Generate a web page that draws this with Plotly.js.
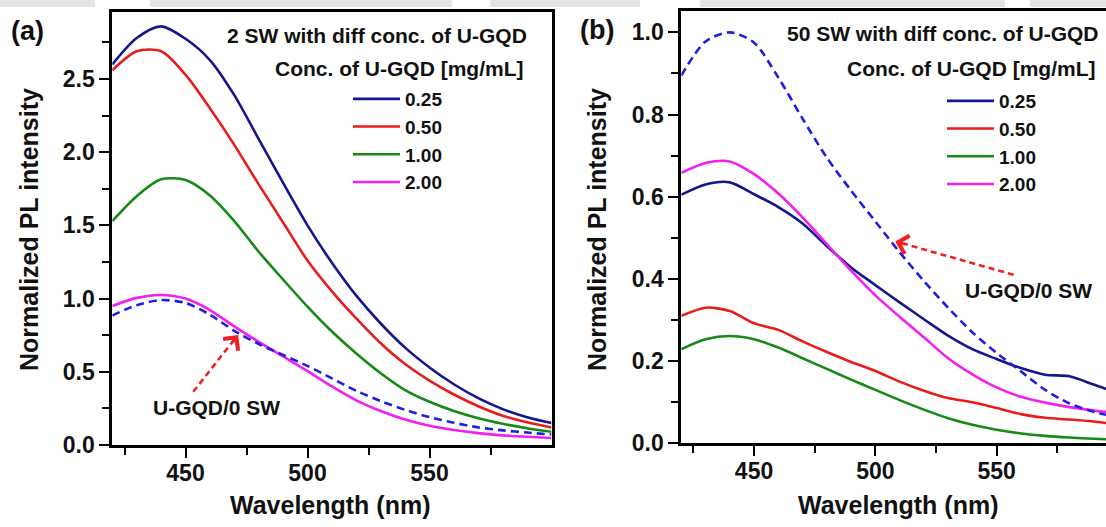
<!DOCTYPE html>
<html>
<head>
<meta charset="utf-8">
<script src="https://cdn.plot.ly/plotly-3.0.1.min.js"></script>
<style>html,body{margin:0;padding:0;background:#fff;}#chart{width:1106px;height:527px;}</style>
</head>
<body>
<div id="chart"></div>
<script>
// ---------- data: panel (a) 2 SW ----------
const wlA = [420,430,440,450,460,470,480,490,500,510,520,530,540,550,560,570,580,590,600];
const a025 = [2.60,2.78,2.86,2.775,2.63,2.39,2.09,1.79,1.50,1.245,1.02,0.83,0.665,0.53,0.415,0.32,0.245,0.19,0.15];
const a050 = [2.56,2.69,2.69,2.53,2.30,2.05,1.78,1.52,1.26,1.05,0.865,0.695,0.553,0.44,0.345,0.265,0.20,0.155,0.12];
const a100 = [1.53,1.70,1.815,1.81,1.705,1.53,1.32,1.13,0.945,0.775,0.625,0.49,0.375,0.295,0.232,0.183,0.145,0.115,0.09];
const a200 = [0.95,1.005,1.025,1.0,0.922,0.81,0.705,0.605,0.505,0.40,0.305,0.232,0.174,0.131,0.102,0.081,0.066,0.056,0.048];
const aRef = [0.885,0.955,0.99,0.97,0.89,0.78,0.69,0.615,0.54,0.455,0.37,0.30,0.24,0.19,0.152,0.12,0.10,0.085,0.072];

// ---------- data: panel (b) 50 SW ----------
const wlB = [420,430,440,450,460,470,480,490,500,510,520,530,540,550,560,570,580,590,600];
const b025 = [0.605,0.63,0.635,0.606,0.575,0.535,0.48,0.428,0.385,0.343,0.302,0.262,0.229,0.205,0.183,0.167,0.163,0.143,0.122];
const b050 = [0.31,0.33,0.322,0.292,0.276,0.248,0.222,0.198,0.176,0.150,0.128,0.110,0.100,0.086,0.071,0.062,0.058,0.053,0.046];
const b100 = [0.229,0.253,0.261,0.253,0.233,0.207,0.181,0.155,0.13,0.105,0.082,0.061,0.045,0.033,0.024,0.018,0.014,0.011,0.009];
const b200 = [0.658,0.682,0.686,0.655,0.608,0.55,0.485,0.42,0.36,0.308,0.258,0.207,0.168,0.136,0.113,0.099,0.088,0.08,0.073];
const bRef = [0.895,0.978,1.0,0.975,0.89,0.79,0.695,0.615,0.54,0.465,0.395,0.33,0.27,0.22,0.175,0.13,0.097,0.077,0.063];

const concLabels = ['0.25','0.50','1.00','2.00'];
const refLabel = 'U-GQD/0 SW';
const titleA = '2 SW with diff conc. of U-GQD';
const titleB = '50 SW with diff conc. of U-GQD';
const concTitle = 'Conc. of U-GQD [mg/mL]';
const xTicks = [450, 500, 550];

// ---------- styling ----------
const colors = ['#16168c', '#ea1b1b', '#158a15', '#f21ef2'];
const refColor = '#1f1fe0';
const FONT = 'Liberation Sans, Arial, sans-serif';
const W = 1106, H = 527;
const px = v => v / W;
const py = v => 1 - v / H;

const traces = [];
const seriesA = [a025, a050, a100, a200];
const seriesB = [b025, b050, b100, b200];
seriesA.forEach((ys, i) => traces.push({
  x: wlA, y: ys, type: 'scatter', mode: 'lines', name: concLabels[i],
  line: {color: colors[i], width: 2.6, shape: 'spline', smoothing: 0.8},
  xaxis: 'x', yaxis: 'y', legend: 'legend'
}));
traces.push({x: wlA, y: aRef, type: 'scatter', mode: 'lines', name: refLabel, showlegend: false,
  line: {color: refColor, width: 2.6, dash: '8px,5px', shape: 'spline', smoothing: 0.8}, xaxis: 'x', yaxis: 'y'});
seriesB.forEach((ys, i) => traces.push({
  x: wlB, y: ys, type: 'scatter', mode: 'lines', name: concLabels[i],
  line: {color: colors[i], width: 2.6, shape: 'spline', smoothing: 0.8},
  xaxis: 'x2', yaxis: 'y2', legend: 'legend2'
}));
traces.push({x: wlB, y: bRef, type: 'scatter', mode: 'lines', name: refLabel, showlegend: false,
  line: {color: refColor, width: 2.6, dash: '8px,5px', shape: 'spline', smoothing: 0.8}, xaxis: 'x2', yaxis: 'y2'});

const tickFont = {family: FONT, size: 23, color: '#111', weight: 'bold'};
const axBase = {
  showline: true, linewidth: 3, linecolor: '#000', mirror: true,
  ticks: 'outside', ticklen: 10, tickwidth: 2, tickcolor: '#000',
  showgrid: false, zeroline: false, tickfont: tickFont, fixedrange: true
};
const minorX = {tick0: 425, dtick: 50, ticklen: 7, tickwidth: 2, tickcolor: '#000', ticks: 'outside'};

const ann = (x, y, text, size, extra) => Object.assign({
  xref: 'paper', yref: 'paper', x: x, y: y, text: text, showarrow: false,
  xanchor: 'center', yanchor: 'middle',
  font: {family: FONT, size: size, color: '#111', weight: 'bold'}
}, extra || {});

const legendFont = {family: FONT, size: 19, color: '#111', weight: 'bold'};

const layout = {
  width: W, height: H,
  margin: {l: 0, r: 0, t: 0, b: 0},
  paper_bgcolor: '#fff', plot_bgcolor: '#fff',
  font: {family: FONT, color: '#111'},
  xaxis: Object.assign({}, axBase, {
    domain: [px(112.3), px(551.5)], range: [420, 600], anchor: 'y',
    tickmode: 'array', tickvals: xTicks, ticklabelstandoff: -5, minor: minorX
  }),
  yaxis: Object.assign({}, axBase, {
    domain: [py(445), py(11.7)], range: [0, 2.96], anchor: 'x',
    tick0: 0, dtick: 0.5, tickformat: '.1f',
    minor: {tick0: 0.25, dtick: 0.5, ticklen: 7, tickwidth: 2, tickcolor: '#000', ticks: 'outside'}
  }),
  xaxis2: Object.assign({}, axBase, {
    domain: [px(681.3), 1], range: [420, 595.1], anchor: 'y2',
    tickmode: 'array', tickvals: xTicks, ticklabelstandoff: -5, minor: minorX
  }),
  yaxis2: Object.assign({}, axBase, {
    domain: [py(443.3), py(11)], range: [0, 1.052], anchor: 'x2', mirror: false,
    tick0: 0, dtick: 0.2, tickformat: '.1f',
    minor: {tick0: 0.1, dtick: 0.2, ticklen: 7, tickwidth: 2, tickcolor: '#000', ticks: 'outside'}
  }),
  legend: {
    x: px(348), xanchor: 'left', y: py(80), yanchor: 'top',
    bgcolor: 'rgba(0,0,0,0)', borderwidth: 0, itemwidth: 47, tracegroupgap: 0,
    font: legendFont
  },
  legend2: {
    x: px(942), xanchor: 'left', y: py(82), yanchor: 'top',
    bgcolor: 'rgba(0,0,0,0)', borderwidth: 0, itemwidth: 47, tracegroupgap: 0,
    font: legendFont
  },
  shapes: [
    // faint header strip at the top of the figure
    {type: 'rect', xref: 'paper', yref: 'paper', x0: 0, x1: px(95), y0: py(7), y1: 1, line: {width: 0}, fillcolor: '#e4e4e4'},
    {type: 'rect', xref: 'paper', yref: 'paper', x0: px(150), x1: px(452), y0: py(7), y1: 1, line: {width: 0}, fillcolor: '#e4e4e4'},
    {type: 'rect', xref: 'paper', yref: 'paper', x0: px(490), x1: px(640), y0: py(7), y1: 1, line: {width: 0}, fillcolor: '#e4e4e4'},
    {type: 'rect', xref: 'paper', yref: 'paper', x0: px(700), x1: px(1005), y0: py(7), y1: 1, line: {width: 0}, fillcolor: '#e4e4e4'},
    {type: 'rect', xref: 'paper', yref: 'paper', x0: px(1030), x1: 1, y0: py(7), y1: 1, line: {width: 0}, fillcolor: '#e4e4e4'},
    // dashed arrow shafts
    {type: 'line', xref: 'x', yref: 'y', x0: 453.2, y0: 0.364, x1: 470.0, y1: 0.72,
     line: {color: '#ee2222', width: 2.6, dash: '6px,4px'}},
    {type: 'line', xref: 'x2', yref: 'y2', x0: 557, y0: 0.41, x1: 511.5, y1: 0.486,
     line: {color: '#ee2222', width: 2.6, dash: '6px,4px'}}
  ],
  annotations: [
    ann(px(27), py(31), '(a)', 27),
    ann(px(597), py(30), '(b)', 27),
    ann(px(225), py(35), titleA, 21, {xanchor: 'left'}),
    ann(px(273), py(68), concTitle, 21, {xanchor: 'left'}),
    ann(px(785), py(33.5), titleB, 21, {xanchor: 'left'}),
    ann(px(845), py(68.5), concTitle, 21, {xanchor: 'left'}),
    ann(px(330), py(505), 'Wavelength (nm)', 25),
    ann(px(898), py(505), 'Wavelength (nm)', 25),
    ann(px(29), py(230), 'Normalized PL intensity', 25, {textangle: -90}),
    ann(px(597), py(230), 'Normalized PL intensity', 25, {textangle: -90}),
    {xref: 'x', yref: 'y', x: 462.8, y: 0.257, text: refLabel, showarrow: false,
     xanchor: 'center', yanchor: 'middle',
     font: {family: FONT, size: 21, color: '#111', weight: 'bold'}},
    {xref: 'x2', yref: 'y2', x: 563.2, y: 0.373, text: refLabel, showarrow: false,
     xanchor: 'center', yanchor: 'middle',
     font: {family: FONT, size: 21, color: '#111', weight: 'bold'}},
    // arrow heads
    {xref: 'x', yref: 'y', x: 471.6, y: 0.751, text: '', showarrow: true,
     ax: -7, ay: 9, arrowhead: 4, arrowsize: 1.4, arrowwidth: 2.6, arrowcolor: '#ee2222', standoff: 0},
    {xref: 'x2', yref: 'y2', x: 508.2, y: 0.491, text: '', showarrow: true,
     ax: 11, ay: 3, arrowhead: 4, arrowsize: 1.4, arrowwidth: 2.6, arrowcolor: '#ee2222', standoff: 0}
  ]
};

Plotly.newPlot('chart', traces, layout, {displayModeBar: false, staticPlot: true});
</script>
</body>
</html>
